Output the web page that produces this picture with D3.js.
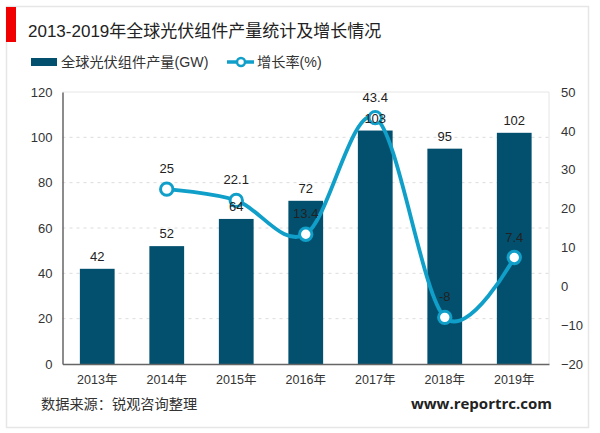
<!DOCTYPE html>
<html><head><meta charset="utf-8">
<script src="https://cdn.jsdelivr.net/npm/d3@7"></script>
<style>html,body{margin:0;padding:0;background:#fff}svg{display:block}text{font-family:"Liberation Sans","Noto Sans CJK SC",sans-serif;fill:#333}</style>
</head><body><svg id="c" width="600" height="433"></svg>
<script>
const titleText="2013-2019年全球光伏组件产量统计及增长情况";
const categories=["2013年","2014年","2015年","2016年","2017年","2018年","2019年"];
const output=[42,52,64,72,103,95,102];
const growth=[null,25,22.1,13.4,43.4,-8,7.4];
const growthLabels=["","25","22.1","13.4","43.4","-8","7.4"];
const leftTicks=[0,20,40,60,80,100,120];
const rightTicks=[-20,-10,0,10,20,30,40,50];
const seriesNames=["全球光伏组件产量(GW)","增长率(%)"];
const source="数据来源：锐观咨询整理";
const site="www.reportrc.com";
const barColor="#03506e",lineColor="#109fc9",gridColor="#dcdcdc";

const m={l:62.5,r:549,t:92,b:364};
const svg=d3.select("#c");
const x=d3.scaleBand().domain(categories).range([m.l,m.r]).paddingInner(0.5).paddingOuter(0.25);
const y=d3.scaleLinear().domain([0,120]).range([m.b,m.t]);
const y2=d3.scaleLinear().domain([-20,50]).range([m.b,m.t]);

svg.append("rect").attr("x",6.5).attr("y",6.5).attr("width",582).attr("height",421).attr("fill","#fff").attr("stroke","#e6e6e6").attr("stroke-width",1.5);
svg.append("rect").attr("x",6).attr("y",7).attr("width",10).attr("height",35).attr("fill","#f00000");
svg.append("text").attr("x",28).attr("y",37).attr("font-size",17).style("fill","#222").text(titleText);

svg.append("rect").attr("x",31).attr("y",58).attr("width",26).attr("height",8).attr("fill",barColor);
svg.append("text").attr("x",61).attr("y",67).attr("font-size",14.2).text(seriesNames[0]);
svg.append("line").attr("x1",227).attr("x2",254).attr("y1",62).attr("y2",62).attr("stroke",lineColor).attr("stroke-width",3.5);
svg.append("circle").attr("cx",241).attr("cy",62).attr("r",4).attr("fill","#fff").attr("stroke",lineColor).attr("stroke-width",2.5);
svg.append("text").attr("x",257).attr("y",67).attr("font-size",14.2).text(seriesNames[1]);

const grid=svg.append("g");
grid.selectAll("line").data(leftTicks.filter(d=>d>0&&d<120)).join("line")
 .attr("x1",m.l).attr("x2",m.r).attr("y1",d=>y(d)).attr("y2",d=>y(d))
 .attr("stroke",gridColor).attr("stroke-dasharray","3 4");
svg.append("path").attr("d",`M${m.l},${m.t}H${m.r}V${m.b}`).attr("fill","none").attr("stroke","#e6e6e6").attr("stroke-width",1);

svg.append("g").selectAll("rect").data(output).join("rect")
 .attr("x",(d,i)=>x(categories[i])).attr("width",x.bandwidth())
 .attr("y",d=>y(d)).attr("height",d=>y(0)-y(d)).attr("fill",barColor);

const ax=svg.append("g").attr("transform",`translate(0,${m.b})`).call(d3.axisBottom(x).tickSize(0).tickPadding(11));
ax.select(".domain").attr("stroke","#666").attr("stroke-width",1.5);
ax.selectAll("text").attr("font-size",12.5).style("font-family",'"Liberation Sans","Noto Sans CJK SC",sans-serif');
const al=svg.append("g").attr("transform",`translate(${m.l},0)`).call(d3.axisLeft(y).tickValues(leftTicks).tickSize(0).tickPadding(10));
al.select(".domain").attr("stroke","#666").attr("stroke-width",1.5);
al.selectAll("text").attr("font-size",13).style("font-family",'"Liberation Sans",sans-serif');
const ar=svg.append("g").attr("transform",`translate(${m.r},0)`).call(d3.axisRight(y2).tickValues(rightTicks).tickSize(0).tickPadding(12));
ar.select(".domain").remove();
ar.selectAll("text").attr("font-size",13).style("font-family",'"Liberation Sans",sans-serif');

const pts=growth.map((g,i)=>({g,c:categories[i]})).filter(d=>d.g!==null);
const cx=c=>x(c)+x.bandwidth()/2;
svg.append("path").datum(pts).attr("fill","none").attr("stroke",lineColor).attr("stroke-width",3.8)
 .attr("d",d3.line().x(d=>cx(d.c)).y(d=>y2(d.g)).curve(d3.curveCatmullRom.alpha(0)));
svg.append("g").selectAll("circle").data(pts).join("circle")
 .attr("cx",d=>cx(d.c)).attr("cy",d=>y2(d.g)).attr("r",6.2).attr("fill","#fff").attr("stroke",lineColor).attr("stroke-width",3);

svg.append("g").selectAll("text").data(output).join("text")
 .attr("x",(d,i)=>cx(categories[i])).attr("y",d=>y(d)-8).attr("text-anchor","middle").attr("font-size",13).style("fill","#222").text(d=>d);
svg.append("g").selectAll("text").data(pts).join("text")
 .attr("x",d=>cx(d.c)).attr("y",d=>y2(d.g)-16).attr("text-anchor","middle").attr("font-size",13).style("fill","#222")
 .text(d=>growthLabels[categories.indexOf(d.c)]);

svg.append("text").attr("x",41).attr("y",409).attr("font-size",14.2).text(source);
svg.append("text").attr("x",552).attr("y",409).attr("text-anchor","end").attr("font-size",15).attr("font-weight","bold").style("font-family",'"Open Sans",sans-serif').style("fill","#222").text(site);
</script></body></html>
